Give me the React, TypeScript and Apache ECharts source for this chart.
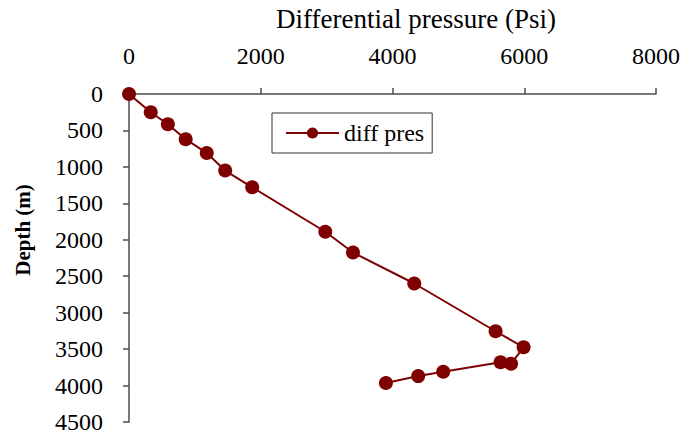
import React, { useEffect, useRef } from "react";
import * as echarts from "echarts";

const seriesName = "diff pres";
const diffPressure = [0, 330, 590, 860, 1180, 1460, 1870, 2980, 3400, 4330, 5565, 5990, 5800, 5640, 4770, 4390, 3900];
const depth = [0, 250, 415, 620, 810, 1050, 1280, 1890, 2175, 2600, 3255, 3475, 3700, 3680, 3810, 3870, 3965];
const xTitle = "Differential pressure (Psi)";
const yTitle = "Depth (m)";

export default function App() {
  const ref = useRef<HTMLDivElement>(null);
  useEffect(() => {
    if (!ref.current) return;
    const chart = echarts.init(ref.current, undefined, { renderer: "svg" });
    const font = "'Liberation Serif', 'Times New Roman', serif";
    const axisColor = "#4d4d4d";
    const plain = (v: number) => String(v);
    chart.setOption({
      animation: false,
      backgroundColor: "#ffffff",
      textStyle: { fontFamily: font },
      grid: { left: 129, top: 94, width: 529, height: 328, containLabel: false },
      legend: {
        data: [seriesName],
        left: 272,
        top: 113,
        orient: "horizontal",
        itemWidth: 53,
        itemHeight: 14,
        itemGap: 5,
        padding: [8, 8, 8, 13],
        borderColor: "#333333",
        borderWidth: 1,
        textStyle: { fontFamily: font, fontSize: 24, color: "#000" },
      },
      graphic: [
        {
          type: "text",
          left: 276,
          top: 5,
          style: { text: xTitle, fontFamily: font, fontSize: 27, fill: "#000" },
        },
        {
          type: "text",
          x: 23,
          y: 230,
          rotation: Math.PI / 2,
          style: {
            text: yTitle,
            fontFamily: font,
            fontSize: 21,
            fontWeight: "bold",
            fill: "#000",
            align: "center",
            verticalAlign: "middle",
          },
        },
      ],
      xAxis: {
        type: "value",
        position: "top",
        min: 0,
        max: 8000,
        interval: 2000,
        axisLine: { show: true, onZero: false, lineStyle: { color: axisColor, width: 1.5 } },
        axisTick: { show: true, length: 6, lineStyle: { color: axisColor, width: 1.5 } },
        splitLine: { show: false },
        axisLabel: { fontFamily: font, fontSize: 24, color: "#000", margin: 26, formatter: plain },
      },
      yAxis: {
        type: "value",
        inverse: true,
        min: 0,
        max: 4500,
        interval: 500,
        axisLine: { show: true, onZero: false, lineStyle: { color: axisColor, width: 1.5 } },
        axisTick: { show: true, length: 6, lineStyle: { color: axisColor, width: 1.5 } },
        splitLine: { show: false },
        axisLabel: { fontFamily: font, fontSize: 24, color: "#000", margin: 26, formatter: plain },
      },
      series: [
        {
          name: seriesName,
          type: "line",
          data: diffPressure.map((x, i) => [x, depth[i]]),
          symbol: "circle",
          symbolSize: 14,
          itemStyle: { color: "#7f0000" },
          lineStyle: { color: "#7f0000", width: 2 },
        },
      ],
    });
    return () => chart.dispose();
  }, []);
  return (
    <div
      ref={ref}
      style={{ position: "fixed", left: 0, top: 0, width: 683, height: 437, background: "#fff" }}
    />
  );
}
